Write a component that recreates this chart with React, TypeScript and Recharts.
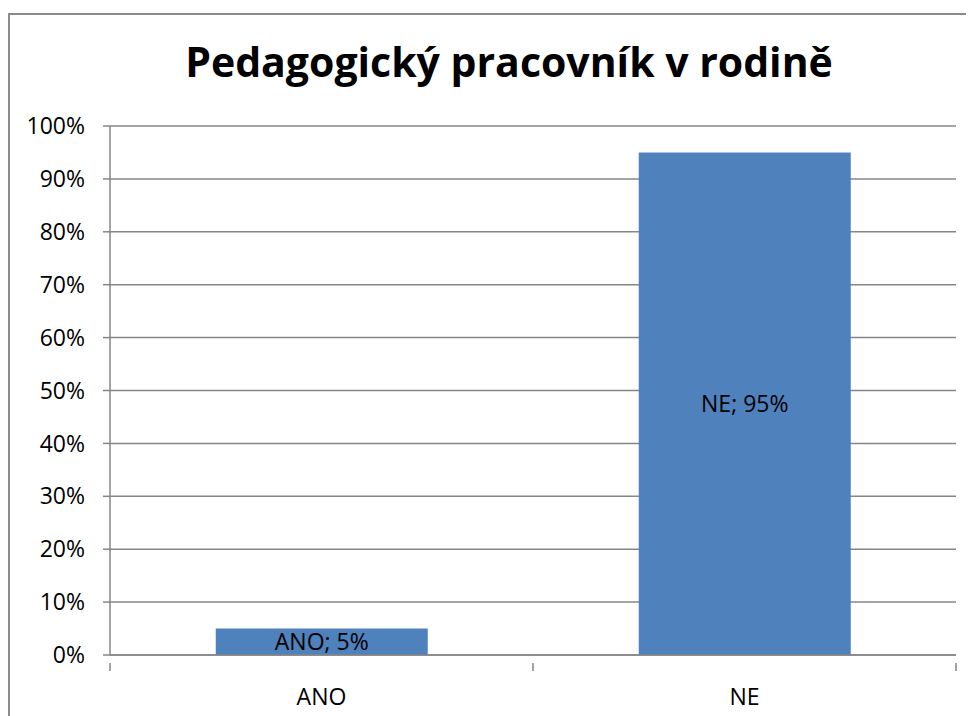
import React from "react";
import { BarChart, Bar, XAxis, YAxis, CartesianGrid, LabelList } from "recharts";

const categories = ["ANO", "NE"];
const values = [5, 95];
const yTicks = [0, 10, 20, 30, 40, 50, 60, 70, 80, 90, 100];
const title = "Pedagogický pracovník v rodině";

const data = categories.map((c, i) => ({ name: c, value: values[i] }));

const W = 966;
const H = 708;
const MARGIN = { top: 118, right: 18, bottom: 21, left: 32 };
const Y_W = 70;
const X_H = 40;
const PLOT_W = W - MARGIN.left - MARGIN.right - Y_W;
const HALF_BAND = PLOT_W / categories.length / 2;
const GRAY = "#868686";
const FONT = "'Open Sans', sans-serif";

const XTick = (props: any) => {
  const { x, y, payload, index } = props;
  const last = index === categories.length - 1;
  return (
    <g>
      <line x1={x - HALF_BAND} x2={x - HALF_BAND} y1={y} y2={y + 8} stroke={GRAY} strokeWidth={1.5} />
      {last && (
        <line x1={x + HALF_BAND} x2={x + HALF_BAND} y1={y} y2={y + 8} stroke={GRAY} strokeWidth={1.5} />
      )}
      <text x={x} y={y + 42} textAnchor="middle" fontFamily={FONT} fontSize={23} fill="#000">
        {payload.value}
      </text>
    </g>
  );
};

export default function App() {
  return (
    <div style={{ position: "relative", width: W, height: H, background: "#fff" }}>
      <div
        style={{
          position: "absolute",
          left: 0,
          top: 5,
          width: W + 50,
          height: H + 50,
          borderLeft: "2px solid #8c8c8c",
          borderTop: "2px solid #8c8c8c",
          boxSizing: "border-box",
        }}
      />
      <div
        style={{
          position: "absolute",
          left: 501 - 450,
          top: 28,
          width: 900,
          textAlign: "center",
          fontFamily: FONT,
          fontWeight: 700,
          fontSize: 41,
          lineHeight: "50px",
          whiteSpace: "nowrap",
          color: "#000",
        }}
      >
        {title}
      </div>
      <div style={{ position: "absolute", left: 0, top: 0 }}>
        <BarChart width={W} height={H} data={data} margin={MARGIN} barCategoryGap="25%">
          <CartesianGrid vertical={false} stroke={GRAY} strokeWidth={1.5} />
          <XAxis
            dataKey="name"
            height={X_H}
            axisLine={{ stroke: GRAY, strokeWidth: 1.5 }}
            tickLine={false}
            tick={<XTick />}
            interval={0}
          />
          <YAxis
            width={Y_W}
            domain={[0, 100]}
            ticks={yTicks}
            interval={0}
            tickFormatter={(v: number) => `${v}%`}
            axisLine={{ stroke: GRAY, strokeWidth: 1.5 }}
            tickLine={{ stroke: GRAY, strokeWidth: 1.5 }}
            tickSize={7}
            tickMargin={18}
            tick={{ fontFamily: FONT, fontSize: 23, fill: "#000" }}
          />
          <Bar dataKey="value" fill="#4F81BD" isAnimationActive={false}>
            <LabelList
              dataKey="value"
              position="center"
              content={(p: any) => {
                const { x, y, width, height, index, value } = p;
                return (
                  <text
                    x={x + width / 2}
                    y={y + height / 2}
                    dy="0.35em"
                    textAnchor="middle"
                    fontFamily={FONT}
                    fontSize={23}
                    fill="#000"
                  >
                    {`${categories[index]}; ${value}%`}
                  </text>
                );
              }}
            />
          </Bar>
        </BarChart>
      </div>
    </div>
  );
}
